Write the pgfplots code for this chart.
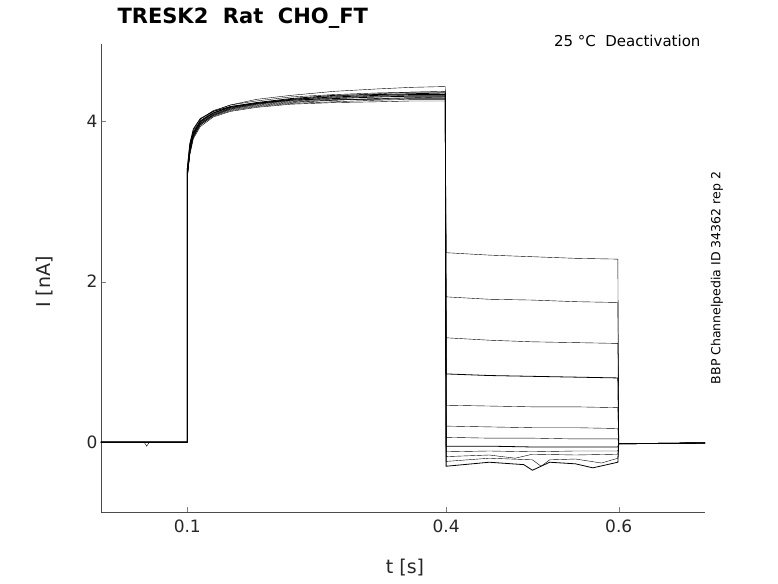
\documentclass[border=0pt]{standalone}
\usepackage{fontspec}
\setmainfont{DejaVu Sans}
\usepackage{pgfplots}
\pgfplotsset{compat=1.18}
\begin{document}
\begin{tikzpicture}[x=1pt,y=1pt]
\path[use as bounding box] (-101,-71) rectangle (677,512);
\begin{axis}[at={(0,0)},anchor=south west,scale only axis,width=604pt,height=468pt,
 xmin=0,xmax=0.7,ymin=-0.87,ymax=4.96,
 axis x line*=bottom, axis y line*=left,
 xtick={0.1,0.4,0.6}, ytick={0,2,4},
 xticklabels={0.1,0.4,0.6},
 /pgf/number format/assume math mode=true,
 tick label style={font=\fontsize{17}{20}\selectfont,color=black!85},
 xticklabel style={yshift=-4pt},
 tick align=inside, major tick length=5pt,
 cycle list={{black,no markers,solid,line width=0.8pt}},
 axis line style={black!70}]
\addplot coordinates {(0,0)(0.05,0)(0.053,-0.05)(0.056,0)(0.0999,0)(0.1,3.3)(0.103,3.65)(0.107,3.85)(0.115,4.0)(0.13,4.12)(0.15,4.2)(0.18,4.27)(0.22,4.32)(0.27,4.37)(0.32,4.4)(0.36,4.42)(0.399,4.43)(0.4,2.36)(0.45,2.33)(0.5,2.31)(0.55,2.29)(0.599,2.28)(0.6,-0.02)(0.7,-0.01)};
\addplot coordinates {(0,0)(0.0999,0)(0.1,3.35)(0.103,3.7)(0.107,3.88)(0.115,4.02)(0.13,4.13)(0.15,4.2)(0.18,4.25)(0.22,4.3)(0.27,4.33)(0.32,4.35)(0.36,4.36)(0.399,4.36)(0.4,1.81)(0.45,1.78)(0.5,1.77)(0.55,1.75)(0.599,1.74)(0.6,-0.02)(0.7,-0.01)};
\addplot coordinates {(0,0)(0.0999,0)(0.1,3.3)(0.103,3.6)(0.107,3.8)(0.115,3.95)(0.13,4.07)(0.15,4.15)(0.18,4.21)(0.22,4.26)(0.27,4.29)(0.32,4.31)(0.36,4.32)(0.399,4.32)(0.4,1.3)(0.45,1.27)(0.5,1.25)(0.55,1.24)(0.599,1.23)(0.6,-0.02)(0.7,-0.01)};
\addplot coordinates {(0,0)(0.0999,0)(0.1,3.4)(0.103,3.72)(0.107,3.9)(0.115,4.03)(0.13,4.12)(0.15,4.18)(0.18,4.22)(0.22,4.26)(0.27,4.28)(0.32,4.3)(0.36,4.31)(0.399,4.31)(0.4,0.85)(0.45,0.83)(0.5,0.82)(0.55,0.81)(0.599,0.8)(0.6,-0.02)(0.7,-0.01)};
\addplot coordinates {(0,0)(0.0999,0)(0.1,3.3)(0.103,3.62)(0.107,3.82)(0.115,3.97)(0.13,4.08)(0.15,4.15)(0.18,4.2)(0.22,4.24)(0.27,4.26)(0.32,4.28)(0.36,4.29)(0.399,4.29)(0.4,0.46)(0.45,0.45)(0.5,0.44)(0.55,0.44)(0.599,0.43)(0.6,-0.02)(0.7,-0.01)};
\addplot coordinates {(0,0)(0.0999,0)(0.1,3.35)(0.103,3.66)(0.107,3.84)(0.115,3.98)(0.13,4.09)(0.15,4.16)(0.18,4.21)(0.22,4.25)(0.27,4.27)(0.32,4.27)(0.36,4.28)(0.399,4.28)(0.4,0.2)(0.45,0.19)(0.5,0.18)(0.55,0.18)(0.599,0.17)(0.6,-0.02)(0.7,-0.01)};
\addplot coordinates {(0,0)(0.0999,0)(0.1,3.3)(0.103,3.58)(0.107,3.78)(0.115,3.93)(0.13,4.05)(0.15,4.12)(0.18,4.17)(0.22,4.21)(0.27,4.23)(0.32,4.24)(0.36,4.25)(0.399,4.25)(0.4,0.06)(0.45,0.05)(0.5,0.05)(0.55,0.04)(0.599,0.04)(0.6,-0.02)(0.7,-0.01)};
\addplot coordinates {(0,0)(0.0999,0)(0.1,3.4)(0.103,3.7)(0.107,3.86)(0.115,4.0)(0.13,4.1)(0.15,4.17)(0.18,4.22)(0.22,4.27)(0.27,4.3)(0.32,4.32)(0.36,4.33)(0.399,4.33)(0.4,-0.05)(0.45,-0.05)(0.5,-0.06)(0.55,-0.06)(0.599,-0.06)(0.6,-0.02)(0.7,-0.01)};
\addplot coordinates {(0,0)(0.0999,0)(0.1,3.3)(0.103,3.6)(0.107,3.8)(0.115,3.95)(0.13,4.06)(0.15,4.13)(0.18,4.18)(0.22,4.22)(0.27,4.24)(0.32,4.26)(0.36,4.27)(0.399,4.27)(0.4,-0.12)(0.45,-0.11)(0.5,-0.12)(0.55,-0.11)(0.599,-0.11)(0.6,-0.02)(0.7,-0.01)};
\addplot coordinates {(0,0)(0.0999,0)(0.1,3.35)(0.103,3.64)(0.107,3.83)(0.115,3.97)(0.13,4.07)(0.15,4.14)(0.18,4.19)(0.22,4.23)(0.27,4.26)(0.32,4.28)(0.36,4.29)(0.399,4.3)(0.4,-0.18)(0.45,-0.16)(0.48,-0.2)(0.5,-0.15)(0.55,-0.16)(0.599,-0.15)(0.6,-0.02)(0.7,-0.01)};
\addplot coordinates {(0,0)(0.0999,0)(0.1,3.3)(0.103,3.62)(0.107,3.81)(0.115,3.96)(0.13,4.08)(0.15,4.16)(0.18,4.22)(0.22,4.27)(0.27,4.31)(0.32,4.34)(0.36,4.36)(0.399,4.37)(0.4,-0.24)(0.45,-0.2)(0.5,-0.22)(0.51,-0.3)(0.52,-0.22)(0.55,-0.21)(0.58,-0.26)(0.599,-0.2)(0.6,-0.02)(0.7,-0.01)};
\addplot coordinates {(0,0)(0.0999,0)(0.1,3.35)(0.103,3.66)(0.107,3.84)(0.115,3.99)(0.13,4.1)(0.15,4.18)(0.18,4.23)(0.22,4.28)(0.27,4.32)(0.32,4.33)(0.36,4.34)(0.399,4.35)(0.4,-0.3)(0.45,-0.25)(0.49,-0.28)(0.5,-0.35)(0.52,-0.25)(0.55,-0.27)(0.57,-0.32)(0.599,-0.25)(0.6,-0.02)(0.7,-0.01)};
\end{axis}
\node[font=\fontsize{21}{24}\selectfont\bfseries,anchor=west] at (13,494) {TRESK2\ \ Rat\ \ CHO\_FT};
\node[font=\fontsize{15}{18}\selectfont,anchor=east] at (603,471) {25 °C\ \ Deactivation};
\node[font=\fontsize{12.5}{15}\selectfont,rotate=90] at (616,234) {BBP Channelpedia ID 34362 rep 2};
\node[font=\fontsize{19}{22}\selectfont,rotate=90,color=black!85] at (-56,230) {I [nA]};
\node[font=\fontsize{19}{22}\selectfont,color=black!85] at (304,-56) {t [s]};
\end{tikzpicture}
\end{document}
